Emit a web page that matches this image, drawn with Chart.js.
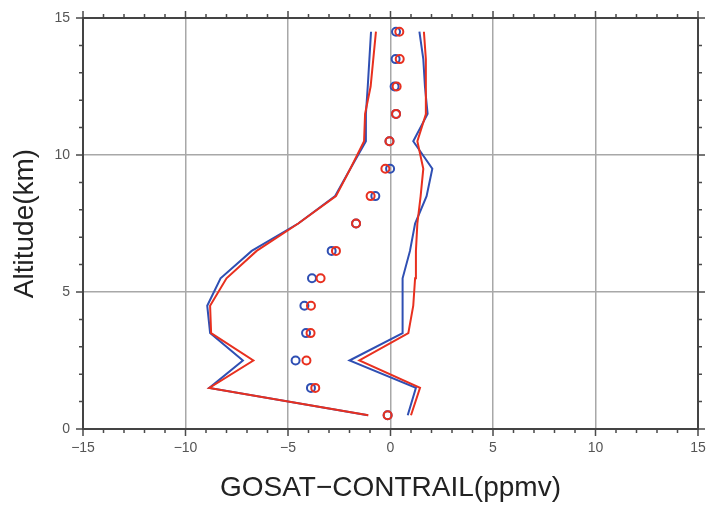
<!DOCTYPE html>
<html>
<head>
<meta charset="utf-8">
<script src="https://cdn.jsdelivr.net/npm/chart.js@4"></script>
<style>
  html, body { margin: 0; padding: 0; background: #fff; }
  #wrap { width: 710px; height: 506px; }
</style>
</head>
<body>
<div id="wrap"><canvas id="profileChart" width="710" height="506"></canvas></div>
<script>
const altitude = [0.5, 1.5, 2.5, 3.5, 4.5, 5.5, 6.5, 7.5, 8.5, 9.5, 10.5, 11.5, 12.5, 13.5, 14.5];

// blue profile: mean difference and the lower / upper envelope
const blueMean = [-0.14, -3.88, -4.63, -4.12, -4.2, -3.83, -2.87, -1.68, -0.74, -0.02, -0.05, 0.27, 0.2, 0.25, 0.27];
const blueLow = [-1.1, -8.84, -7.2, -8.8, -8.94, -8.29, -6.77, -4.5, -2.7, -1.96, -1.2, -1.2, -1.11, -1.03, -0.95];
const blueHigh = [0.84, 1.24, -2.0, 0.59, 0.59, 0.59, 0.95, 1.2, 1.76, 2.04, 1.11, 1.81, 1.68, 1.6, 1.41];

// red profile
const redMean = [-0.14, -3.67, -4.1, -3.9, -3.88, -3.41, -2.66, -1.68, -0.97, -0.25, -0.05, 0.27, 0.3, 0.45, 0.43];
const redLow = [-1.08, -8.84, -6.69, -8.75, -8.8, -8.0, -6.53, -4.5, -2.66, -1.96, -1.29, -1.24, -0.97, -0.84, -0.71];
const redHigh = [1.0, 1.44, -1.52, 0.87, 1.11, 1.2, 1.24, 1.31, 1.47, 1.6, 1.31, 1.73, 1.73, 1.72, 1.63];

const xTicks = [-15, -10, -5, 0, 5, 10, 15];
const yTicks = [0, 5, 10, 15];

const BLUE = '#2f4fb3';
const RED = '#e8301f';
const FONT = 'Liberation Sans, Arial, sans-serif';

function pairs(xs) {
  return xs.map((v, i) => ({ x: v, y: altitude[i] }));
}

function lineSet(xs, color) {
  return {
    data: pairs(xs),
    showLine: true,
    borderColor: color,
    borderWidth: 2,
    pointRadius: 0,
    fill: false,
  };
}

function dotSet(xs, color) {
  return {
    data: pairs(xs),
    showLine: false,
    borderColor: color,
    backgroundColor: 'rgba(0,0,0,0)',
    borderWidth: 2,
    pointRadius: 4,
    pointStyle: 'circle',
  };
}

const minus = v => (v < 0 ? '\u2212' + Math.abs(v) : String(v));

// frame on all four sides plus outward ticks (long at labelled values)
const framePlugin = {
  id: 'frame',
  afterDatasetsDraw(chart) {
    const { ctx, chartArea: a, scales } = chart;
    const xs = scales.x, ys = scales.y;
    ctx.save();
    ctx.strokeStyle = '#4a4a4a';
    ctx.lineWidth = 1.5;
    for (let v = -15; v <= 15; v++) {
      const px = xs.getPixelForValue(v);
      const len = xTicks.includes(v) ? 7 : 4;
      ctx.beginPath();
      ctx.moveTo(px, a.bottom); ctx.lineTo(px, a.bottom + len);
      ctx.moveTo(px, a.top); ctx.lineTo(px, a.top - len);
      ctx.stroke();
    }
    for (let v = 0; v <= 15; v++) {
      const py = ys.getPixelForValue(v);
      const len = yTicks.includes(v) ? 7 : 4;
      ctx.beginPath();
      ctx.moveTo(a.left, py); ctx.lineTo(a.left - len, py);
      ctx.moveTo(a.right, py); ctx.lineTo(a.right + len, py);
      ctx.stroke();
    }
    ctx.lineWidth = 2;
    ctx.strokeStyle = '#444';
    ctx.strokeRect(a.left, a.top, a.right - a.left, a.bottom - a.top);
    ctx.restore();
  }
};

const gridColor = (c, edges) =>
  (c.tick && c.tick.value % 5 === 0 && !edges.includes(c.tick.value)) ? '#a8a8a8' : 'rgba(0,0,0,0)';

// red is listed first so it is painted over the blue
new Chart(document.getElementById('profileChart').getContext('2d'), {
  type: 'scatter',
  data: {
    datasets: [
      dotSet(redMean, RED),
      dotSet(blueMean, BLUE),
      lineSet(redLow, RED),
      lineSet(redHigh, RED),
      lineSet(blueLow, BLUE),
      lineSet(blueHigh, BLUE),
    ],
  },
  options: {
    responsive: false,
    animation: false,
    layout: { padding: { top: 18, right: 12, left: 0, bottom: 0 } },
    plugins: {
      legend: { display: false },
      tooltip: { enabled: false },
    },
    scales: {
      x: {
        type: 'linear',
        min: -15,
        max: 15,
        afterBuildTicks: s => { s.ticks = xTicks.map(v => ({ value: v })); },
        afterFit: s => { s.height = 77; s.paddingLeft = 0; s.paddingRight = 0; },
        grid: { drawTicks: false, color: c => gridColor(c, [-15, 15]), lineWidth: 1.5 },
        border: { display: false },
        ticks: {
          padding: 11,
          color: '#555',
          font: { family: FONT, size: 14 },
          maxRotation: 0,
          callback: v => minus(v),
        },
        title: {
          display: true,
          text: 'GOSAT\u2212CONTRAIL(ppmv)',
          color: '#222',
          font: { family: FONT, size: 28 },
          padding: { top: 0, bottom: 1 },
        },
      },
      y: {
        type: 'linear',
        min: 0,
        max: 15,
        afterBuildTicks: s => { s.ticks = yTicks.map(v => ({ value: v })); },
        afterFit: s => { s.width = 83; s.paddingTop = 0; s.paddingBottom = 0; },
        grid: { drawTicks: false, color: c => gridColor(c, [0, 15]), lineWidth: 1.5 },
        border: { display: false },
        ticks: {
          padding: 13,
          color: '#555',
          font: { family: FONT, size: 14 },
          callback: v => minus(v),
        },
        title: {
          display: true,
          text: 'Altitude(km)',
          color: '#222',
          font: { family: FONT, size: 28 },
          padding: { top: 8, bottom: 0 },
        },
      },
    },
  },
  plugins: [framePlugin],
});
</script>
</body>
</html>
